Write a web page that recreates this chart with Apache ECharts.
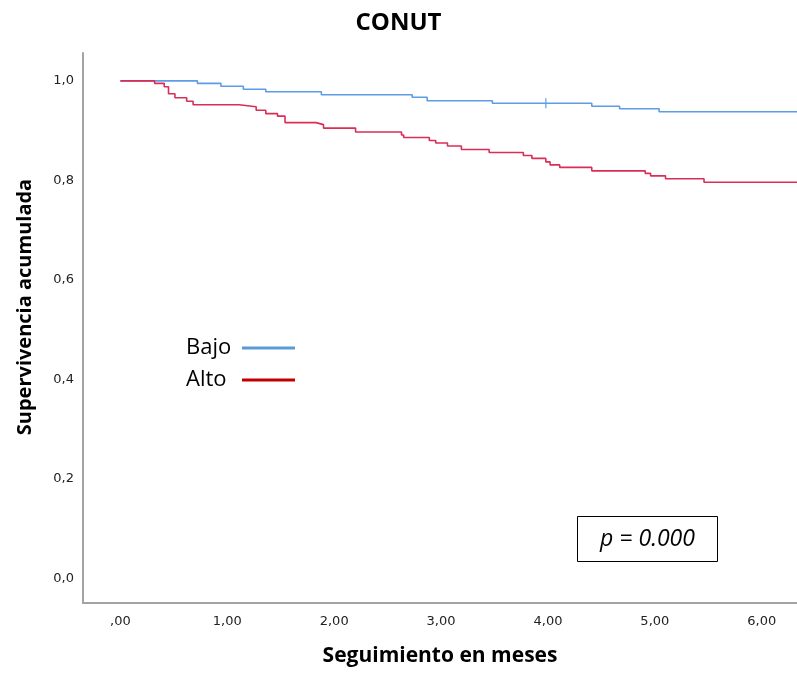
<!DOCTYPE html>
<html>
<head>
<meta charset="utf-8">
<script src="https://cdn.jsdelivr.net/npm/echarts@6/dist/echarts.min.js"></script>
<style>
html,body{margin:0;padding:0;background:#fff;}
#chart{width:797px;height:673px;}
</style>
</head>
<body>
<div id="chart"></div>
<script>
// ---- data ----
var seriesNames = ['Bajo', 'Alto'];

var bajoTimes = [0, 0.72, 0.94, 1.15, 1.36, 1.88, 2.73, 2.87, 3.48, 4.41, 4.67, 5.04, 6.33];
var bajoSurv  = [1.0, 0.995, 0.989, 0.983, 0.978, 0.972, 0.967, 0.960, 0.955, 0.949, 0.944, 0.938, 0.938];

var bajoCensorTimes = [3.98];
var bajoCensorSurv  = [0.955];

var altoTimes = [0, 0.32, 0.41, 0.45, 0.51, 0.62, 0.68, 1.11, 1.27, 1.36, 1.47, 1.54, 1.83, 1.90,
                 2.20, 2.63, 2.65, 2.89, 2.95, 3.06, 3.19, 3.45, 3.77, 3.85, 3.98, 4.02, 4.11,
                 4.41, 4.91, 4.96, 5.10, 5.46, 6.33];
var altoSurv  = [1.0, 0.995, 0.988, 0.974, 0.966, 0.959, 0.952, 0.948, 0.941, 0.934, 0.929, 0.916, 0.912, 0.905,
                 0.897, 0.891, 0.886, 0.880, 0.875, 0.869, 0.862, 0.856, 0.850, 0.844, 0.837, 0.831, 0.826,
                 0.819, 0.814, 0.809, 0.803, 0.796, 0.796];

var xTickValues = [0, 1, 2, 3, 4, 5, 6];
var xTickLabels = [',00', '1,00', '2,00', '3,00', '4,00', '5,00', '6,00'];
var yTickValues = [0, 0.2, 0.4, 0.6, 0.8, 1.0];
var yTickLabels = ['0,0', '0,2', '0,4', '0,6', '0,8', '1,0'];

var titleText = 'CONUT';
var xAxisTitle = 'Seguimiento en meses';
var yAxisTitle = 'Supervivencia acumulada';
var pValueText = 'p = 0.000';

// ---- build ----
function pairs(xs, ys) { return xs.map(function (x, i) { return [x, ys[i]]; }); }
function labelFor(values, labels) {
  return function (v) {
    for (var i = 0; i < values.length; i++) { if (Math.abs(values[i] - v) < 1e-6) return labels[i]; }
    return '';
  };
}

var blueLine = '#5e9de4';
var redLine = '#d92e56';
var blueLegend = '#5b9bd5';
var redLegend = '#c00000';
var axisGrey = '#a3a3a3';
var tickFont = 'DejaVu Sans';

var chart = echarts.init(document.getElementById('chart'), null, {renderer: 'canvas'});
chart.setOption({
  backgroundColor: '#ffffff',
  animation: false,
  title: {
    text: titleText,
    left: 'center',
    top: 6,
    textStyle: {fontFamily: 'Open Sans', fontWeight: 'bold', fontSize: 24, color: '#000'}
  },
  grid: {left: 83, right: 0, top: 53, bottom: 70, containLabel: false},
  legend: {
    orient: 'vertical',
    left: 181,
    top: 332,
    align: 'right',
    itemGap: 10,
    itemWidth: 53,
    itemHeight: 3,
    icon: 'rect',
    formatter: '{n|{name}}',
    textStyle: {
      fontFamily: 'Open Sans', fontSize: 22, color: '#000',
      rich: {n: {fontFamily: 'Open Sans', fontSize: 22, color: '#000', width: 51, align: 'left'}}
    },
    data: [
      {name: seriesNames[0], itemStyle: {color: blueLegend}},
      {name: seriesNames[1], itemStyle: {color: redLegend}}
    ]
  },
  xAxis: {
    type: 'value',
    min: -0.35,
    max: 6.33,
    name: xAxisTitle,
    nameLocation: 'middle',
    nameGap: 43,
    nameTextStyle: {fontFamily: 'Open Sans', fontWeight: 'bold', fontSize: 21, color: '#000'},
    axisLine: {show: true, onZero: false, lineStyle: {color: axisGrey, width: 2}},
    axisTick: {show: false},
    splitLine: {show: false},
    axisLabel: {
      customValues: xTickValues,
      formatter: labelFor(xTickValues, xTickLabels),
      margin: 12,
      fontFamily: tickFont,
      fontSize: 13,
      color: '#222'
    }
  },
  yAxis: {
    type: 'value',
    min: -0.05,
    max: 1.056,
    name: yAxisTitle,
    nameLocation: 'middle',
    nameGap: 48,
    nameTextStyle: {fontFamily: 'Open Sans', fontWeight: 'bold', fontSize: 20, color: '#000', padding: [0, 0, 0, 42]},
    axisLine: {show: true, onZero: false, lineStyle: {color: axisGrey, width: 2}},
    axisTick: {show: false},
    splitLine: {show: false},
    axisLabel: {
      customValues: yTickValues,
      formatter: labelFor(yTickValues, yTickLabels),
      margin: 9,
      fontFamily: tickFont,
      fontSize: 13,
      color: '#222'
    }
  },
  series: [
    {
      name: seriesNames[0],
      type: 'line',
      step: 'end',
      showSymbol: false,
      symbol: 'none',
      lineStyle: {color: blueLine, width: 1.6},
      itemStyle: {color: blueLine},
      data: pairs(bajoTimes, bajoSurv),
      z: 3
    },
    {
      name: seriesNames[1],
      type: 'line',
      step: 'end',
      showSymbol: false,
      symbol: 'none',
      lineStyle: {color: redLine, width: 1.6},
      itemStyle: {color: redLine},
      data: pairs(altoTimes, altoSurv),
      z: 3
    },
    {
      name: seriesNames[0] + ' censurado',
      type: 'scatter',
      symbol: 'rect',
      symbolSize: [1.5, 10],
      itemStyle: {color: blueLine},
      data: pairs(bajoCensorTimes, bajoCensorSurv),
      z: 4
    }
  ],
  graphic: [
    {
      type: 'group',
      left: 577,
      top: 516,
      children: [
        {type: 'rect', shape: {x: 0, y: 0, width: 140, height: 45}, style: {fill: '#fff', stroke: '#000', lineWidth: 1}},
        {type: 'text', x: 70, y: 23, style: {text: pValueText, x: 0, y: 0, textAlign: 'center', textVerticalAlign: 'middle',
          font: 'italic 23px "Open Sans"', fill: '#000'}}
      ]
    }
  ]
});
</script>
</body>
</html>
